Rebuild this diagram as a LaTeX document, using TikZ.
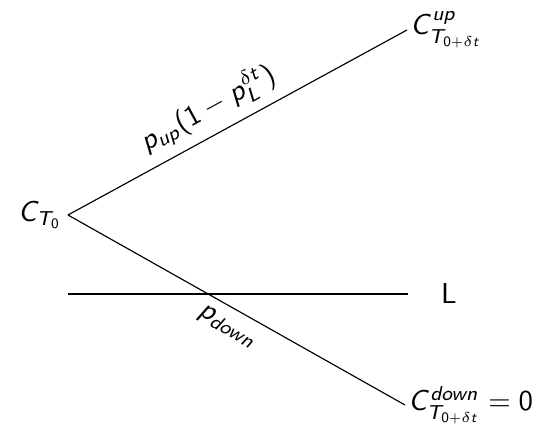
\documentclass[tikz,border=0pt]{standalone}
\usetikzlibrary{positioning}
% sans serif math letters, as in slides
\DeclareSymbolFont{sfitalic}{OT1}{cmss}{m}{sl}
\SetSymbolFont{operators}{normal}{OT1}{cmss}{m}{n}
\DeclareMathSymbol{C}{\mathalpha}{sfitalic}{`C}
\DeclareMathSymbol{T}{\mathalpha}{sfitalic}{`T}
\DeclareMathSymbol{L}{\mathalpha}{sfitalic}{`L}
\DeclareMathSymbol{u}{\mathalpha}{sfitalic}{`u}
\DeclareMathSymbol{p}{\mathalpha}{sfitalic}{`p}
\DeclareMathSymbol{d}{\mathalpha}{sfitalic}{`d}
\DeclareMathSymbol{o}{\mathalpha}{sfitalic}{`o}
\DeclareMathSymbol{w}{\mathalpha}{sfitalic}{`w}
\DeclareMathSymbol{n}{\mathalpha}{sfitalic}{`n}
\DeclareMathSymbol{t}{\mathalpha}{sfitalic}{`t}
\tikzset{
  branch/.style = {draw, line width=0.4pt},
  leaf/.style   = {anchor=west, inner sep=1pt}
}

\begin{document}
\sffamily
\begin{tikzpicture}[x=0.0122cm, y=-0.0122cm]
\useasboundingbox (0,0) rectangle (541,427);
% tree points
\coordinate (root) at (68,215);
\coordinate (up) at (407,30);
\coordinate (down) at (405,405);
\coordinate (barL) at (68,294);
\coordinate (barR) at (408,294);
\node[anchor=east, inner sep=2pt] (c0) at (root) {$C_{T_0}$};
\node[leaf] (cup) at (up) {$C^{up}_{T_{0+\delta t}}$};
\node[leaf] (cdown) at (down) {$C^{down}_{T_{0+\delta t}} = 0$};
\node[right=0.28cm of barR] (lev) {L};
% branches
\draw[branch] (root) -- node[pos=0.45, above, sloped] {$p_{up}(1-p_L^{\delta t})$} (up);
\draw[branch] (root) -- node[pos=0.5, below, sloped] {$p_{down}$} (down);
\draw[branch] (barL) -- (barR);
\end{tikzpicture}
\end{document}
